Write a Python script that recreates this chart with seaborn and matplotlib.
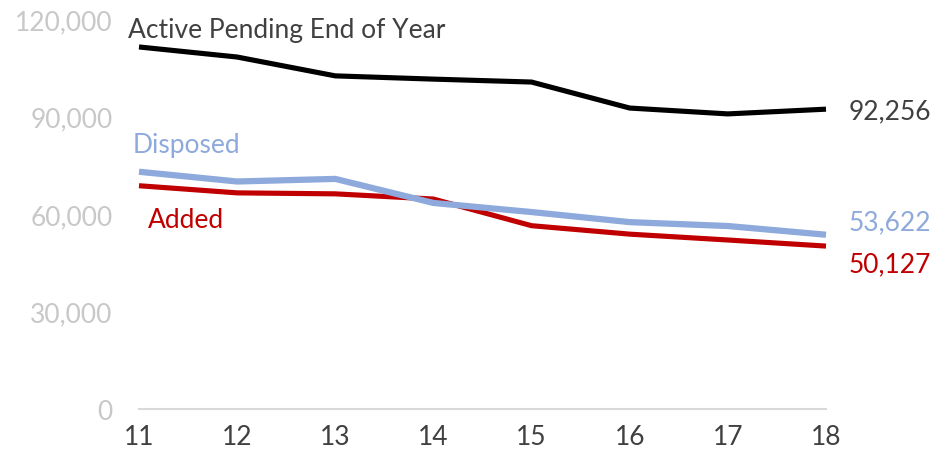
import matplotlib
matplotlib.use('Agg')
import matplotlib.pyplot as plt
import matplotlib.ticker as mticker
import seaborn as sns
import pandas as pd

years = [11, 12, 13, 14, 15, 16, 17, 18]
pending = [111400, 108300, 102500, 101500, 100600, 92600, 90800, 92256]
disposed = [73000, 70000, 70800, 63400, 60600, 57500, 56300, 53622]
added = [68700, 66500, 66200, 64600, 56400, 53800, 52000, 50127]

COL = {'pending': '#000000', 'disposed': '#8EA9DB', 'added': '#C00000',
       'text': '#404040', 'grid': '#D9D9D9', 'ytick': '#C8C8C8'}

sns.set_theme(style='white')
plt.rcParams['font.family'] = ['Lato', 'DejaVu Sans']

df = pd.DataFrame({'year': years, 'pending': pending,
                   'disposed': disposed, 'added': added})

fig = plt.figure(figsize=(9.49, 4.6), dpi=100)
ax = fig.add_axes([139 / 949, 50 / 460, 687 / 949, 390 / 460])

sns.lineplot(data=df, x='year', y='pending', color=COL['pending'], linewidth=3.7, ax=ax)
sns.lineplot(data=df, x='year', y='added', color=COL['added'], linewidth=3.7, ax=ax)
sns.lineplot(data=df, x='year', y='disposed', color=COL['disposed'], linewidth=4.5, ax=ax)
for ln in ax.lines:
    ln.set_clip_on(False)
    ln.set_solid_capstyle('butt')

ax.set_xlim(11, 18)
ax.set_ylim(0, 120000)
ax.set_xticks(years)
ax.set_yticks([0, 30000, 60000, 90000, 120000])
ax.yaxis.set_major_formatter(mticker.FuncFormatter(lambda v, _: f'{v:,.0f}'))
ax.set_xlabel('')
ax.set_ylabel('')
ax.tick_params(axis='y', colors=COL['ytick'], labelsize=19, length=0, pad=19)
ax.tick_params(axis='x', colors=COL['text'], labelsize=19, length=0, pad=11)
for s in ['top', 'right', 'left']:
    ax.spines[s].set_visible(False)
ax.spines['bottom'].set_color(COL['grid'])
ax.spines['bottom'].set_linewidth(1.5)

# series labels
ax.text(10.885, 116800, 'Active Pending End of Year', color=COL['text'],
        fontsize=19, va='center', ha='left')
ax.text(10.94, 81300, 'Disposed', color=COL['disposed'], fontsize=19, va='center')
ax.text(11.09, 58300, 'Added', color=COL['added'], fontsize=19, va='center')

for vals, col, dy in [(pending, COL['text'], -1), (disposed, COL['disposed'], 9),
                      (added, COL['added'], -13)]:
    ax.annotate(f'{vals[-1]:,}', xy=(years[-1], vals[-1]), xytext=(16, dy),
                textcoords='offset points', color=col, fontsize=19,
                va='center', ha='left', annotation_clip=False)

fig.savefig('out.png', dpi=100)
